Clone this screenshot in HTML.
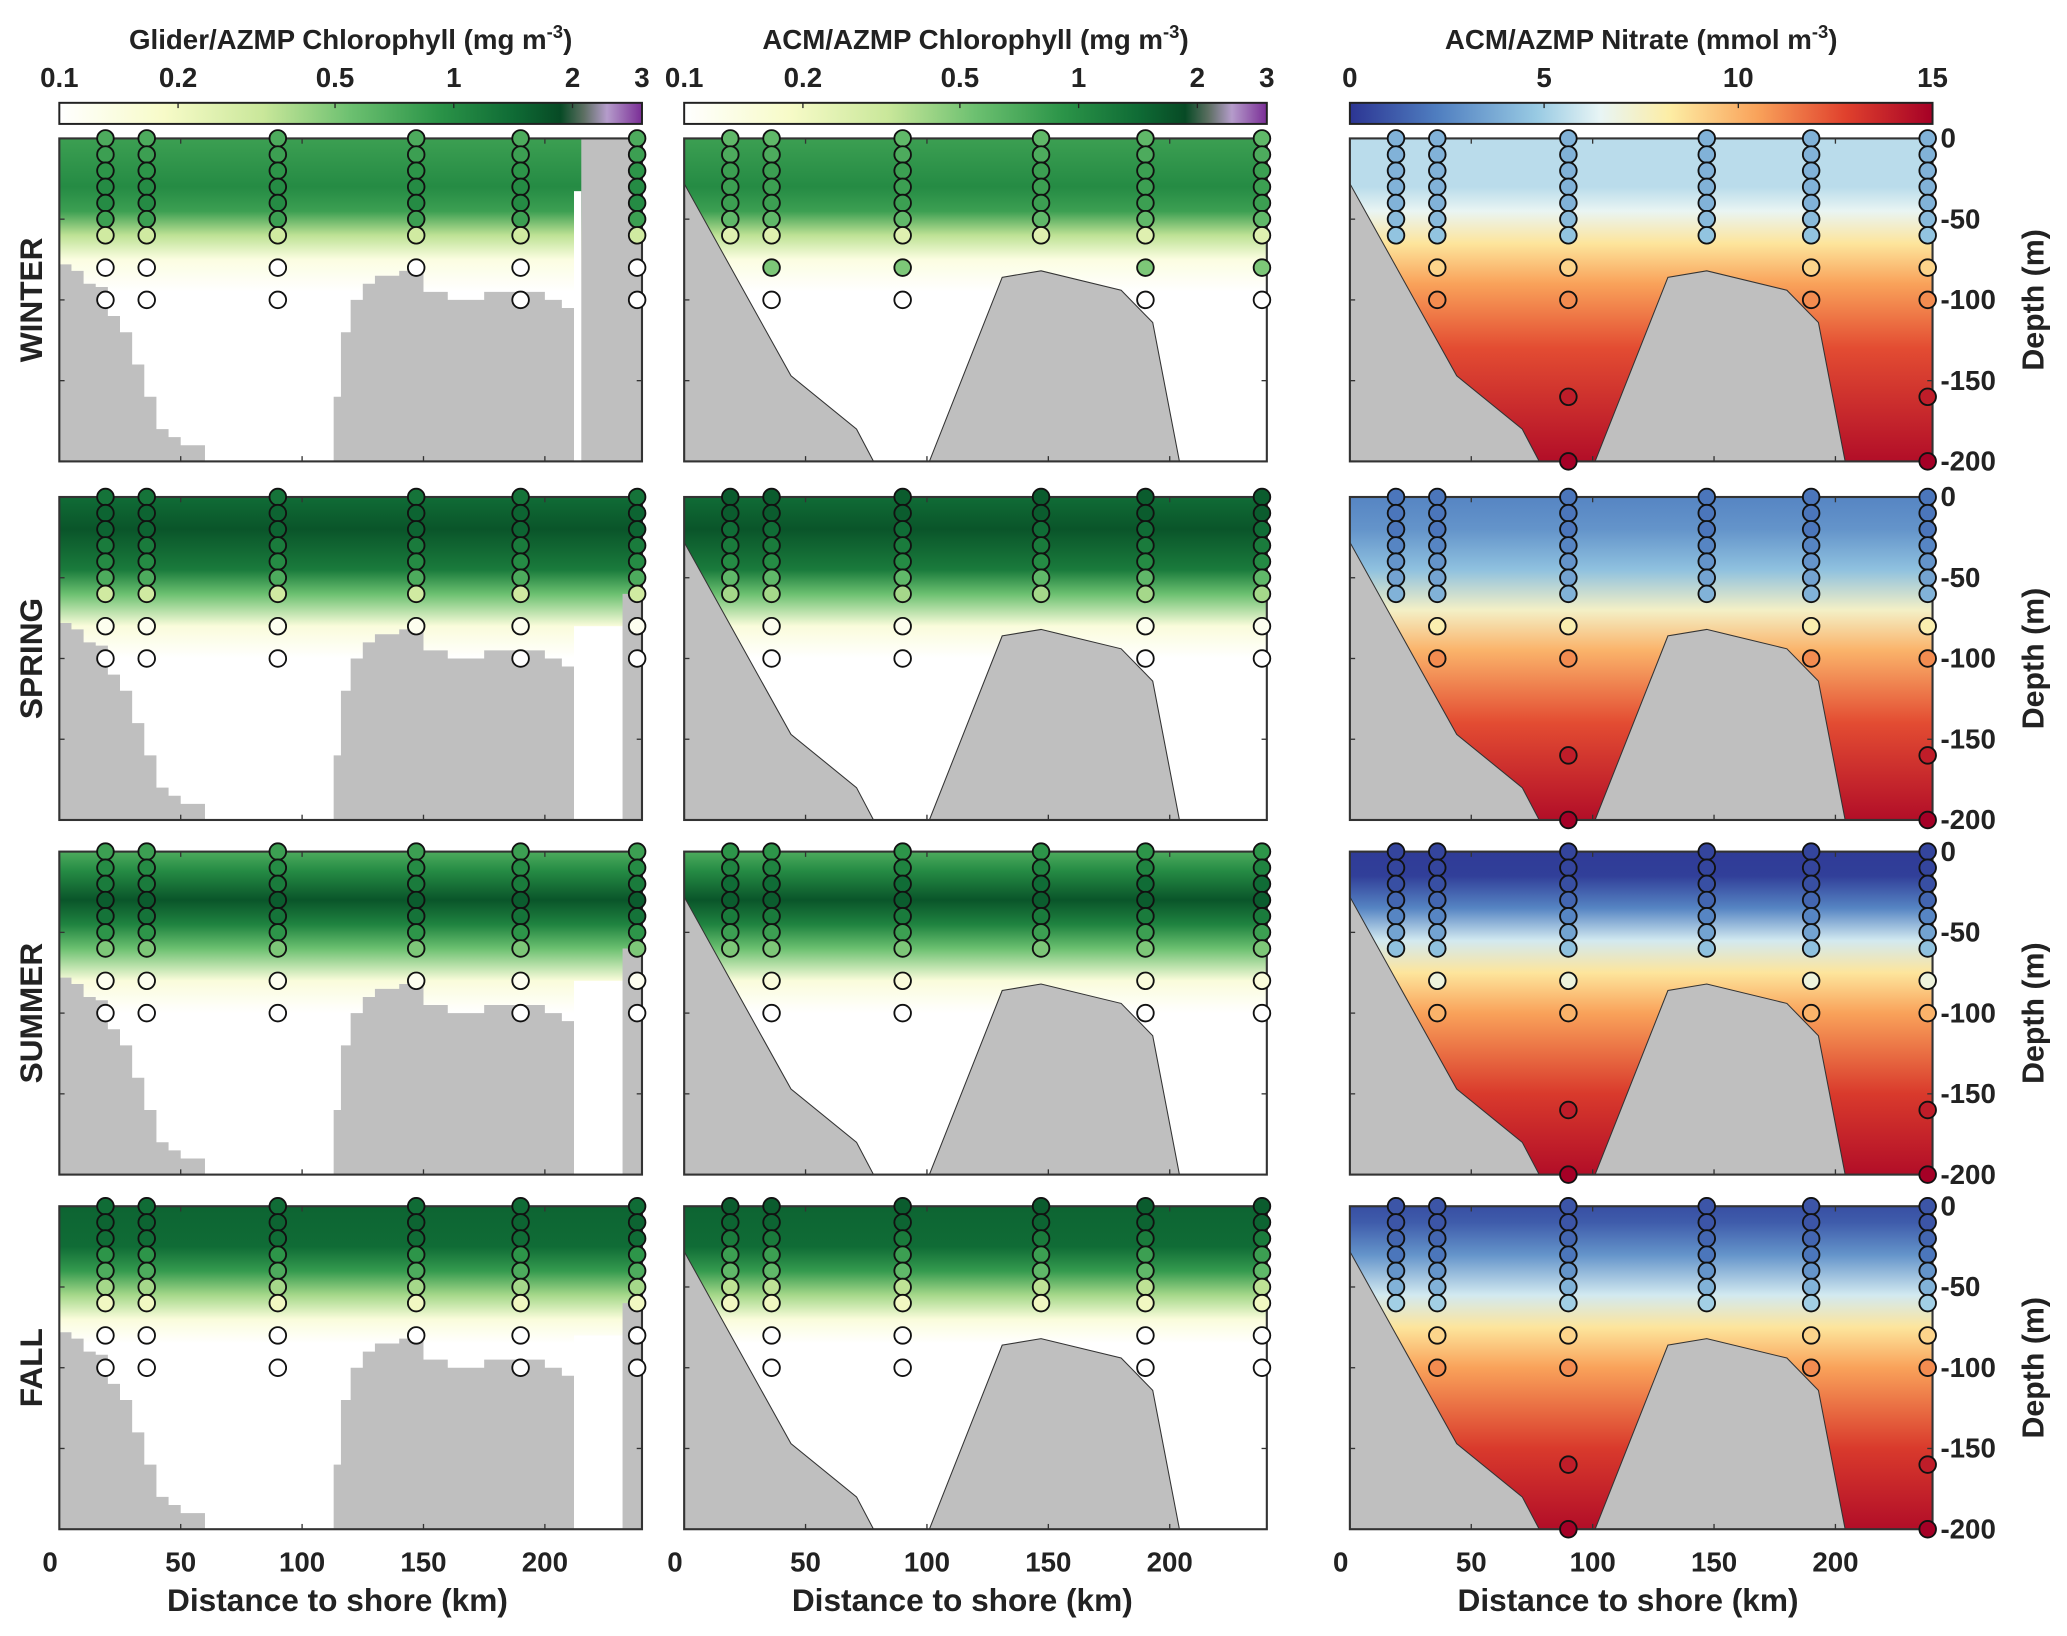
<!DOCTYPE html>
<html><head><meta charset="utf-8">
<style>
html,body{margin:0;padding:0;background:#fff;}
svg{display:block;font-family:"Liberation Sans",Arial,sans-serif;}
</style></head>
<body>
<svg id="fig" width="2067" height="1636" viewBox="0 0 1568 1241" preserveAspectRatio="none" xmlns="http://www.w3.org/2000/svg">
<defs>
<linearGradient id="cbChl" x1="0" x2="1" y1="0" y2="0">
<stop offset="0" stop-color="#ffffff"/><stop offset="0.18" stop-color="#f7fbc8"/><stop offset="0.35" stop-color="#c9e79a"/>
<stop offset="0.5" stop-color="#6cc070"/><stop offset="0.65" stop-color="#2b9448"/><stop offset="0.78" stop-color="#0f6b35"/>
<stop offset="0.86" stop-color="#074a25"/><stop offset="0.9" stop-color="#5c6f62"/><stop offset="0.94" stop-color="#b59ccb"/><stop offset="1" stop-color="#7a2d96"/>
</linearGradient>
<linearGradient id="cbNit" x1="0" x2="1" y1="0" y2="0">
<stop offset="0" stop-color="#2c3593"/><stop offset="0.15" stop-color="#4f7ec0"/><stop offset="0.32" stop-color="#98cae3"/>
<stop offset="0.43" stop-color="#e8f5f5"/><stop offset="0.55" stop-color="#fdeda4"/><stop offset="0.7" stop-color="#f9a25a"/>
<stop offset="0.85" stop-color="#e0412d"/><stop offset="1" stop-color="#a50026"/>
</linearGradient>
</defs>
<g id="root"></g>
</svg>
<script>
const NS="http://www.w3.org/2000/svg";
const root=document.getElementById('root');
const defs=document.querySelector('defs');
function mk(tag,attrs,parent){const e=document.createElementNS(NS,tag);for(const k in attrs)e.setAttribute(k,attrs[k]);(parent||root).appendChild(e);return e;}

// ---- data ----
const seasons=["WINTER","SPRING","SUMMER","FALL"];
const colTitles=["Glider/AZMP Chlorophyll (mg m","ACM/AZMP Chlorophyll (mg m","ACM/AZMP Nitrate (mmol m"];
const stationsKm=[19,36,90,147,190,238];
const sampleDepths=[0,10,20,30,40,50,60,80,100];
const deepDepths=[160,200];
const xTicks=[0,50,100,150,200];
const depthTicks=[0,-50,-100,-150,-200];
const chlTicks=[0.1,0.2,0.5,1,2,3];
const nitTicks=[0,5,10,15];
const chlGlider=[[0.7,0.8,0.9,1.0,1.0,0.8,0.3,0.1,0.1],[1.3,1.5,1.5,1.2,1.0,0.7,0.3,0.12,0.1],[0.8,1.0,1.2,1.6,1.3,0.9,0.5,0.12,0.1],[1.4,1.5,1.4,0.9,0.7,0.4,0.2,0.1,0.1]];
const chlModel=[[0.6,0.7,0.8,0.8,0.8,0.6,0.25,0.5,0.1],[1.6,1.6,1.4,1.2,1.0,0.6,0.4,0.12,0.1],[0.9,1.1,1.4,1.6,1.2,0.8,0.5,0.15,0.1],[1.6,1.5,1.2,0.8,0.6,0.35,0.2,0.1,0.1]];
const nitVals=[[4,4,4,4,4,4.3,4.6,9,11],[2,2,2,2.5,3,3.5,4,8,11],[0.5,0.5,0.8,1.5,2.5,3.5,4.5,7,10],[1,1,1.5,2,3,4,5,9,11]];
const nitDeep=[[14,15],[14,15],[14,15],[14,15]];
const bathyKm=[0,44,71,78,101,131,147,180,193,204,240];
const bathyD=[-28,-147,-180,-200,-200,-86,-82,-94,-114,-200,-200];
const gKm=[0,5,10,15,20,25,30,35,40,45,50,60,66,110,113,116,120,125,130,140,150,160,175,190,200,207,212];
const gD=[-78,-82,-90,-92,-110,-120,-140,-160,-180,-185,-190,-200,-200,-200,-160,-120,-100,-90,-85,-82,-95,-100,-95,-95,-100,-105,-150];

// ---- layout ----
const colX=[45,519,1024], PW=442, rowY=[105,377,646,915], PH=245;
const KX=PW/240, DY=PH/200;
function X(c,km){return colX[c]+km*KX;}
function Y(r,d){return rowY[r]-d*DY;}

function lerpStops(stops,t){t=Math.max(0,Math.min(1,t));for(let i=1;i<stops.length;i++){if(t<=stops[i][0]){const a=stops[i-1],b=stops[i];const f=(t-a[0])/(b[0]-a[0]||1);const ca=hex(a[1]),cb=hex(b[1]);return `rgb(${ca.map((v,j)=>Math.round(v+(cb[j]-v)*f)).join(',')})`;}}return stops[stops.length-1][1];}
function hex(h){return [1,3,5].map(i=>parseInt(h.substr(i,2),16));}
const chlStops=[[0,"#ffffff"],[0.18,"#f7fbc8"],[0.35,"#c9e79a"],[0.5,"#6cc070"],[0.65,"#2b9448"],[0.78,"#0f6b35"],[0.86,"#074a25"],[0.9,"#5c6f62"],[1,"#7a2d96"]];
const nitStops=[[0,"#2c3593"],[0.15,"#4f7ec0"],[0.32,"#98cae3"],[0.43,"#e8f5f5"],[0.55,"#fdeda4"],[0.7,"#f9a25a"],[0.85,"#e0412d"],[1,"#a50026"]];
function chlT(v){return Math.log(v/0.1)/Math.log(30);}
function chlColor(v){return lerpStops(chlStops,chlT(v));}
function nitColor(v){return lerpStops(nitStops,v/15);}

const chlFieldD=[[0,30,45,60,75,95],[0,20,45,60,80,100],[0,12,30,45,60,80,100],[0,25,40,55,70,85]];
const chlFieldV=[[0.8,1.0,0.8,0.35,0.14,0.1],[1.4,1.7,1.2,0.55,0.15,0.1],[0.7,1.0,1.7,1.1,0.55,0.15,0.1],[1.5,1.4,0.85,0.4,0.15,0.1]];
const nitFieldD=[[0,30,45,65,90,130,200],[0,20,45,70,95,140,200],[0,15,35,55,75,100,150,200],[0,10,30,55,75,100,150,200]];
const nitFieldV=[[5.5,5.5,6.5,8.5,10.5,12.5,14.5],[2.5,3,4.5,7.5,10,12.5,14.5],[0.2,0.3,2.5,6,8.5,10.5,13,14.5],[0.8,1.2,3,6,8.5,10.5,13,14.5]];

function fieldGrad(id,r,D,V,colFn){
  const g=mk('linearGradient',{id:id,gradientUnits:'userSpaceOnUse',x1:0,x2:0,y1:Y(r,0),y2:Y(r,-200)},defs);
  D.forEach((d,i)=>mk('stop',{offset:d/200,'stop-color':colFn(V[i])},g));
  return 'url(#'+id+')';
}

[0,1,2].forEach(c=>{
  const cx=colX[c]+PW/2;
  const t=mk('text',{x:cx,y:37,'text-anchor':'middle','font-size':21,'font-weight':'bold',fill:'#222'});
  
  
  t.textContent=colTitles[c];
  const s=mk('tspan',{dy:-8,'font-size':14},t);s.textContent='-3';
  const s2=mk('tspan',{dy:8},t);s2.textContent=')';
  const cb=mk('rect',{x:colX[c],y:78,width:PW,height:16,fill:c<2?'url(#cbChl)':'url(#cbNit)',stroke:'#222','stroke-width':1.5});
  
  
  const ticks=c<2?chlTicks:nitTicks;
  ticks.forEach(v=>{
    const tt=c<2?chlT(v):v/15;
    const x=colX[c]+tt*PW;
    mk('line',{x1:x,x2:x,y1:78,y2:82,stroke:'#222','stroke-width':1});
    const lb=mk('text',{x:x,y:66,'text-anchor':'middle','font-size':21,'font-weight':'bold',fill:'#222'});
    
    
    lb.textContent=v;
  });
});

for(let r=0;r<4;r++){
  const lab=mk('text',{x:32,y:rowY[r]+PH/2,'text-anchor':'middle','font-size':24,'font-weight':'bold',fill:'#222',transform:`rotate(-90 32 ${rowY[r]+PH/2})`});
  
  
  lab.textContent=seasons[r];
  for(let c=0;c<3;c++){
    const g=mk('g',{});
    
    
    const cid='clip'+r+c;
    const cp=mk('clipPath',{id:cid},defs);mk('rect',{x:colX[c],y:rowY[r],width:PW,height:PH},cp);
    const inner=mk('g',{'clip-path':`url(#${cid})`},g);
    mk('rect',{x:colX[c],y:rowY[r],width:PW,height:PH,fill:'#fff'},inner);
    const fill=c<2?fieldGrad('fg'+r+c,r,chlFieldD[r],chlFieldV[r],chlColor):fieldGrad('fg'+r+c,r,nitFieldD[r],nitFieldV[r],nitColor);
    const f=mk('rect',{x:colX[c],y:rowY[r],width:PW,height:PH,fill:fill},inner);
    
    
    if(c===0){
      let pts=`${X(0,0)},${Y(r,-200)} `;
      gKm.forEach((k,i)=>{const nk=i+1<gKm.length?gKm[i+1]:k;pts+=`${X(0,k)},${Y(r,gD[i])} ${X(0,nk)},${Y(r,gD[i])} `;});
      pts+=`${X(0,212)},${Y(r,-200)}`;
      const wb=mk('polygon',{points:pts,fill:'#bfbfbf'},inner);
      
      
      const rx=r===0?X(0,215):X(0,232);
      mk('rect',{x:X(0,212),y:r===0?rowY[r]+40:Y(r,-80),width:rx-X(0,212),height:PH,fill:'#fff'},inner);
      const gr=mk('rect',{x:rx,y:r===0?rowY[r]:Y(r,-60),width:colX[0]+PW-rx,height:PH,fill:'#bfbfbf'},inner);
      
      
    } else {
      const pts=bathyKm.map((k,i)=>`${X(c,k)},${Y(r,bathyD[i])}`).join(' ')+` ${X(c,240)},${Y(r,-220)} ${X(c,0)},${Y(r,-220)}`;
      const b=mk('polygon',{points:pts,fill:'#bfbfbf',stroke:'#333','stroke-width':0.8},inner);
      
      
    }
    mk('rect',{x:colX[c],y:rowY[r],width:PW,height:PH,fill:'none',stroke:'#333','stroke-width':1.6},g);
    xTicks.forEach(k=>{const x=X(c,k);mk('line',{x1:x,x2:x,y1:rowY[r],y2:rowY[r]+4,stroke:'#333'},g);mk('line',{x1:x,x2:x,y1:rowY[r]+PH,y2:rowY[r]+PH-4,stroke:'#333'},g);});
    depthTicks.forEach(d=>{const y=Y(r,d);mk('line',{x1:colX[c],x2:colX[c]+4,y1:y,y2:y,stroke:'#333'},g);mk('line',{x1:colX[c]+PW,x2:colX[c]+PW-4,y1:y,y2:y,stroke:'#333'},g);});
    const vals=c===0?chlGlider[r]:c===1?chlModel[r]:nitVals[r];
    stationsKm.forEach((k,si)=>{
      let bottom=-1000;
      if(c>0){for(let i=1;i<bathyKm.length;i++){if(k<=bathyKm[i]){const f2=(k-bathyKm[i-1])/(bathyKm[i]-bathyKm[i-1]);bottom=bathyD[i-1]+(bathyD[i]-bathyD[i-1])*f2;break;}}}
      sampleDepths.forEach((d,di)=>{
        if(-d<bottom+3 && c>0) return;
        if(d===100 && (si===3)) return;
        const v=vals[di];
        const col=c<2?chlColor(v):nitColor(v);
        const cc=mk('circle',{cx:X(c,k),cy:Y(r,-d),r:6.3,fill:col,stroke:'#111','stroke-width':1.4},g);
        
        
      });
      if(c===2 && (si===2||si===5)){
        deepDepths.forEach((d,di)=>{
          const cc=mk('circle',{cx:X(c,k),cy:Y(r,-d),r:6.3,fill:nitColor(nitDeep[r][di]),stroke:'#111','stroke-width':1.4},g);
          
          
        });
      }
    });
    if(c===2){
      depthTicks.forEach(d=>{
        const t=mk('text',{x:colX[c]+PW+6,y:Y(r,d)+7,'font-size':21,'font-weight':'bold',fill:'#222'},g);
        
        
        t.textContent=d;
      });
      const yy=rowY[r]+PH/2;
      const dl=mk('text',{x:1550,y:yy,'text-anchor':'middle','font-size':23,'font-weight':'bold',fill:'#222',transform:`rotate(-90 1550 ${yy})`},g);
      
      
      dl.textContent='Depth (m)';
    }
    if(r===3){
      xTicks.forEach(k=>{
        const t=mk('text',{x:X(c,k)-(k===0?7:0),y:1192,'text-anchor':'middle','font-size':21,'font-weight':'bold',fill:'#222'},g);
        
        
        t.textContent=k;
      });
      const xt=mk('text',{x:colX[c]+PW/2-10,y:1222,'text-anchor':'middle','font-size':24,'font-weight':'bold',fill:'#222'},g);
      
      
      xt.textContent='Distance to shore (km)';
    }
  }
}
</script>
</body></html>
